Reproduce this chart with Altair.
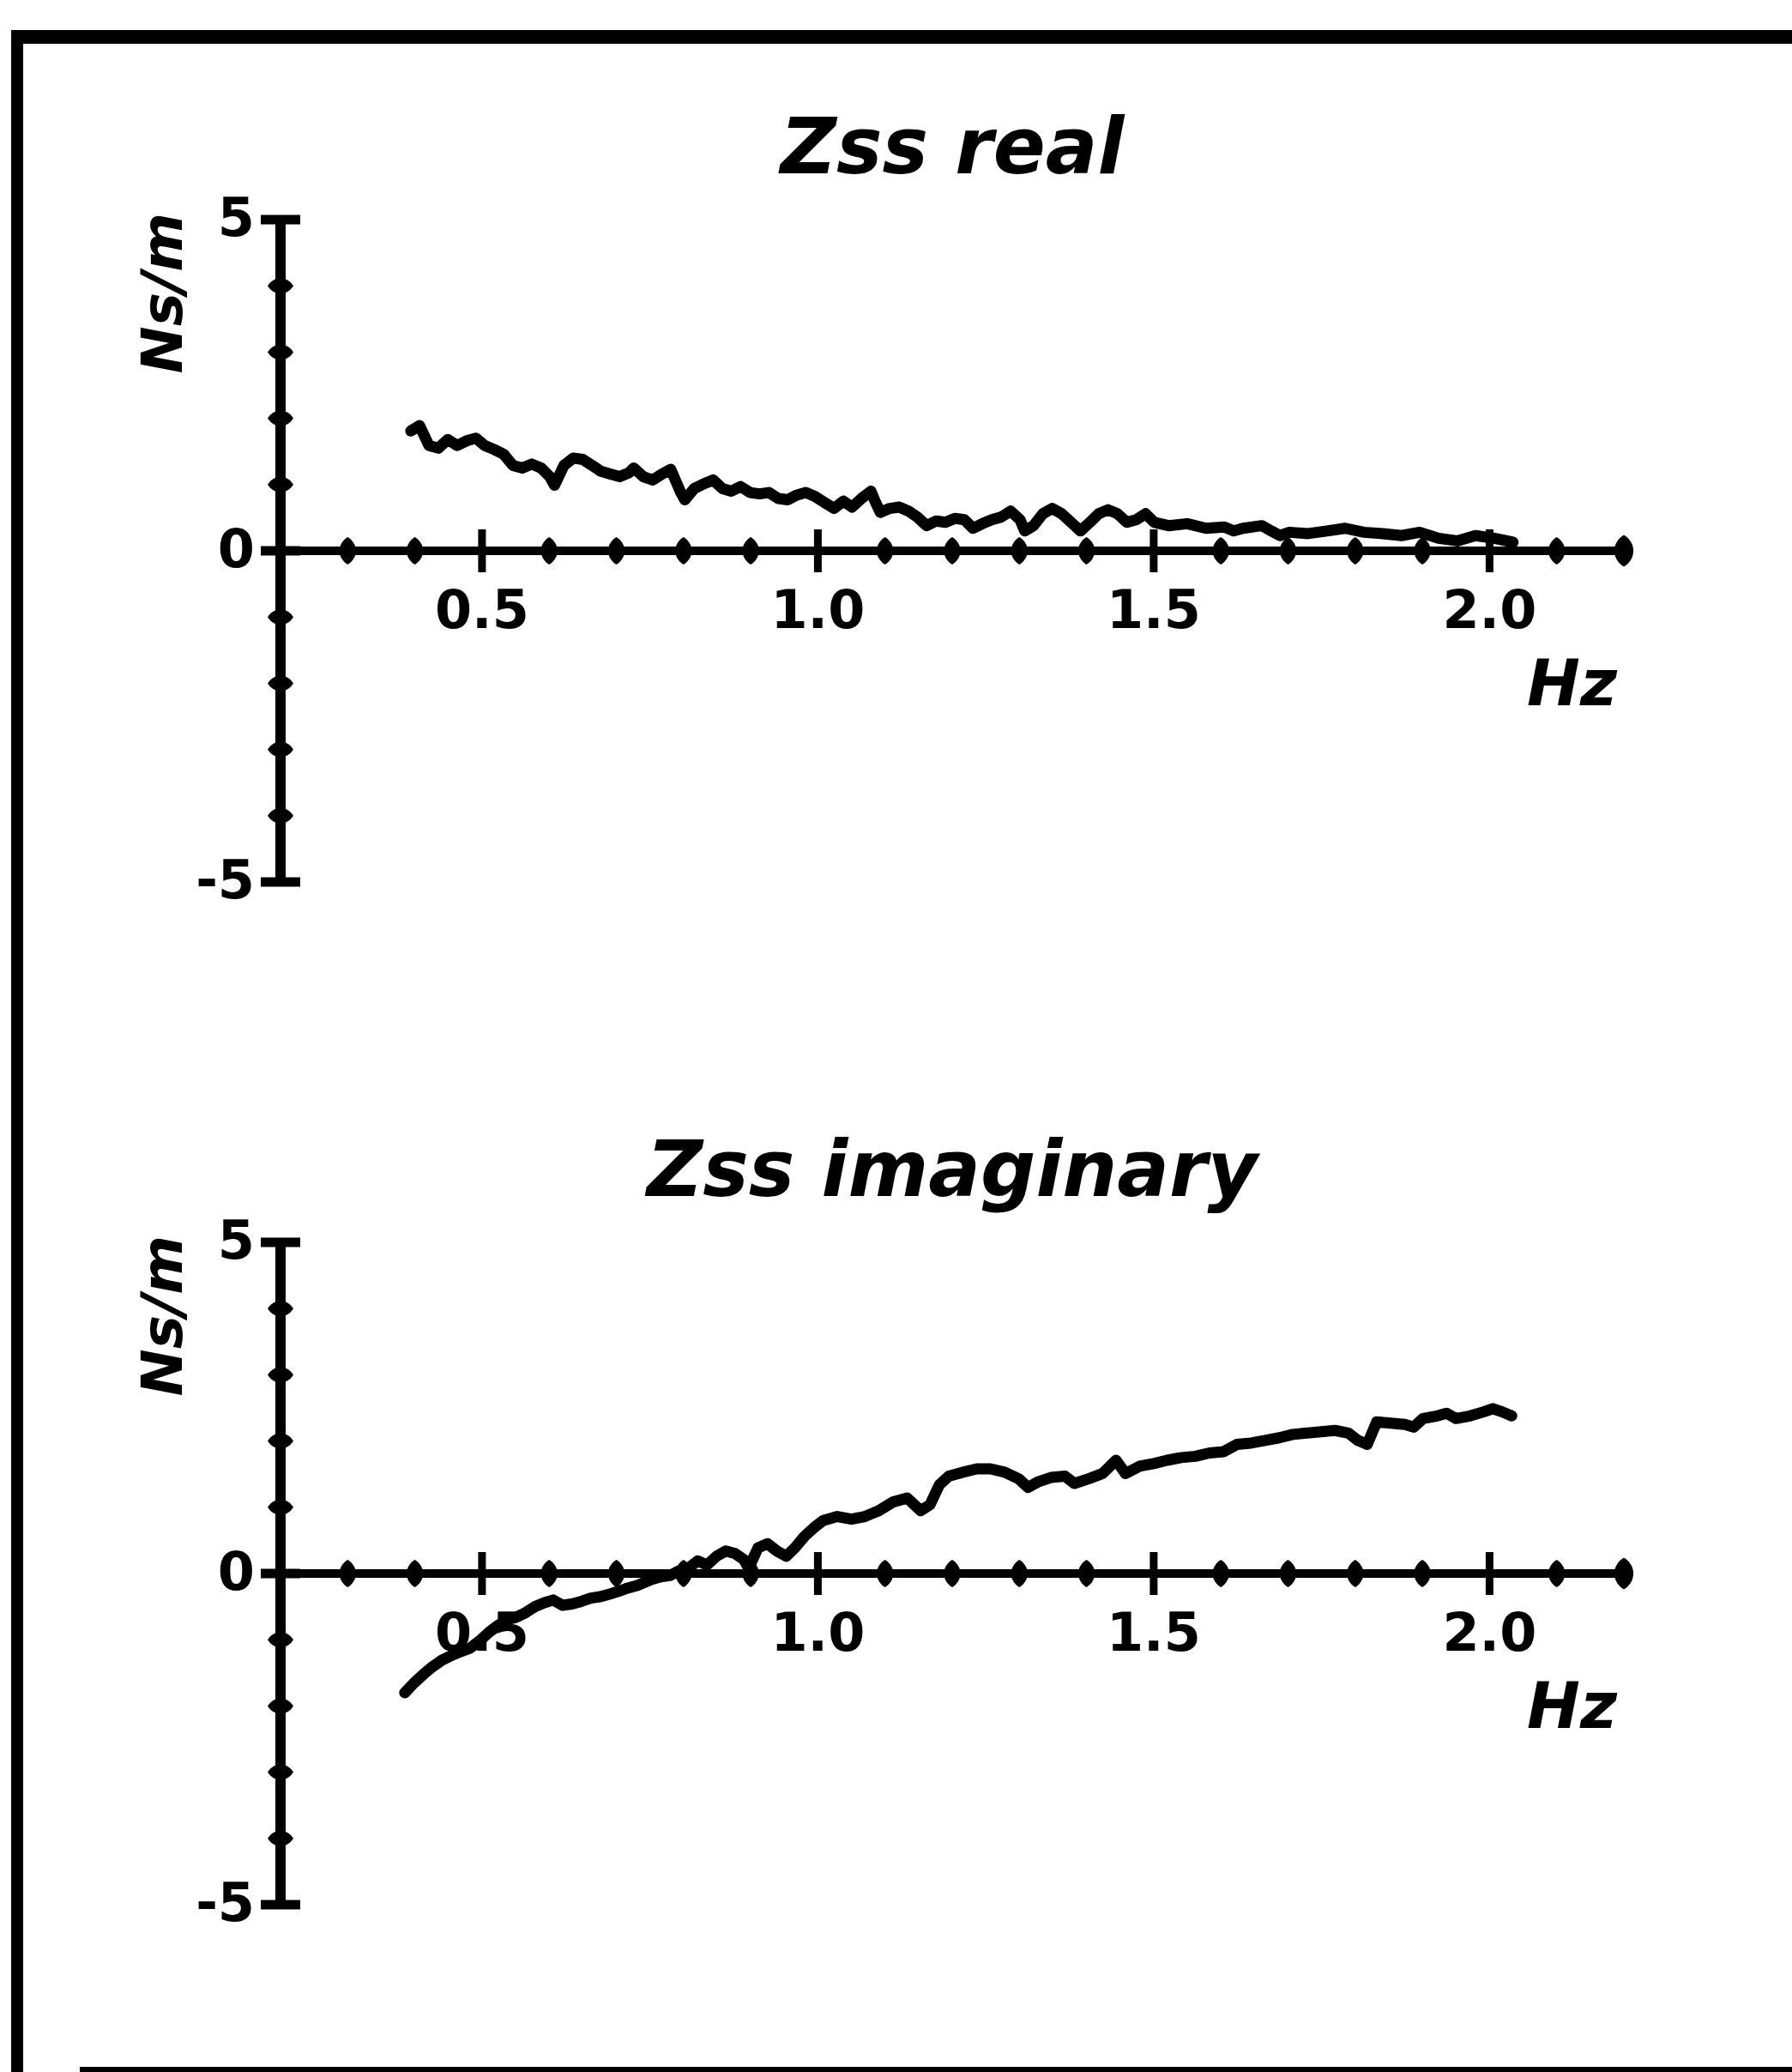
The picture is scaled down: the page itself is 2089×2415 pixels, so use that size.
import altair as alt
import pandas as pd

# ---------------- data ----------------
X_DOMAIN = [0.2, 2.2]
Y_DOMAIN = [-5, 5]
X_AXIS_AT = 0
X_MAJOR = [0.5, 1.0, 1.5, 2.0]
X_MAJOR_LABELS = ["0.5", "1.0", "1.5", "2.0"]
X_MINOR = [0.3, 0.4, 0.6, 0.7, 0.8, 0.9, 1.1, 1.2, 1.3, 1.4, 1.6, 1.7, 1.8, 1.9, 2.1]
Y_MAJOR = [-5, 0, 5]
Y_MAJOR_LABELS = ["-5", "0", "5"]
Y_MINOR = [-4, -3, -2, -1, 1, 2, 3, 4]

TITLES = ["Zss real", "Zss imaginary"]
X_TITLE = "Hz"
Y_TITLE = "Ns/m"

REAL_HZ = [0.394, 0.407, 0.421, 0.435, 0.449, 0.463, 0.477, 0.491, 0.504, 0.518,
           0.532, 0.546, 0.560, 0.574, 0.588, 0.601, 0.608, 0.622, 0.636, 0.650,
           0.664, 0.677, 0.691, 0.705, 0.719, 0.726, 0.740, 0.754, 0.768, 0.781,
           0.795, 0.802, 0.816, 0.830, 0.844, 0.858, 0.871, 0.885, 0.899, 0.913,
           0.927, 0.941, 0.955, 0.968, 0.982, 0.996, 1.010, 1.024, 1.038, 1.051,
           1.065, 1.079, 1.086, 1.093, 1.107, 1.121, 1.135, 1.148, 1.162, 1.176,
           1.190, 1.204, 1.218, 1.231, 1.245, 1.259, 1.273, 1.287, 1.301, 1.308,
           1.321, 1.335, 1.349, 1.363, 1.377, 1.391, 1.405, 1.418, 1.432, 1.446,
           1.460, 1.474, 1.488, 1.501, 1.522, 1.550, 1.578, 1.605, 1.619, 1.633,
           1.661, 1.675, 1.688, 1.702, 1.730, 1.758, 1.785, 1.813, 1.841, 1.869,
           1.896, 1.924, 1.952, 1.979, 2.007, 2.035]
REAL_VAL = [1.81, 1.89, 1.59, 1.55, 1.68, 1.59, 1.66, 1.70, 1.59, 1.53,
            1.46, 1.29, 1.25, 1.31, 1.25, 1.12, 0.99, 1.29, 1.40, 1.38,
            1.29, 1.20, 1.16, 1.12, 1.18, 1.25, 1.12, 1.07, 1.16, 1.23,
            0.90, 0.77, 0.94, 1.01, 1.07, 0.94, 0.90, 0.97, 0.88, 0.86,
            0.88, 0.79, 0.77, 0.84, 0.88, 0.82, 0.73, 0.64, 0.75, 0.66,
            0.79, 0.90, 0.73, 0.58, 0.64, 0.66, 0.60, 0.51, 0.38, 0.45,
            0.43, 0.49, 0.47, 0.34, 0.41, 0.47, 0.51, 0.60, 0.47, 0.30,
            0.38, 0.56, 0.64, 0.56, 0.43, 0.30, 0.43, 0.56, 0.62, 0.56,
            0.43, 0.47, 0.56, 0.43, 0.38, 0.41, 0.34, 0.36, 0.30, 0.34,
            0.38, 0.30, 0.23, 0.28, 0.26, 0.30, 0.34, 0.28, 0.26, 0.23,
            0.28, 0.19, 0.15, 0.23, 0.19, 0.13]

IMAG_HZ = [0.385, 0.399, 0.413, 0.426, 0.440, 0.454, 0.468, 0.482, 0.496, 0.510,
           0.523, 0.537, 0.551, 0.565, 0.579, 0.593, 0.606, 0.620, 0.634, 0.648,
           0.662, 0.676, 0.690, 0.703, 0.717, 0.731, 0.752, 0.766, 0.780, 0.793,
           0.807, 0.821, 0.835, 0.849, 0.863, 0.877, 0.890, 0.897, 0.911, 0.925,
           0.939, 0.953, 0.966, 0.980, 0.994, 1.008, 1.029, 1.050, 1.070, 1.091,
           1.112, 1.133, 1.153, 1.167, 1.181, 1.195, 1.216, 1.237, 1.257, 1.278,
           1.299, 1.313, 1.327, 1.347, 1.368, 1.382, 1.403, 1.424, 1.444, 1.458,
           1.479, 1.500, 1.520, 1.541, 1.562, 1.583, 1.604, 1.624, 1.645, 1.666,
           1.687, 1.707, 1.728, 1.749, 1.770, 1.790, 1.804, 1.818, 1.832, 1.853,
           1.874, 1.887, 1.901, 1.922, 1.936, 1.950, 1.971, 1.991, 2.005, 2.019,
           2.033]
IMAG_VAL = [-1.80, -1.65, -1.52, -1.41, -1.31, -1.24, -1.18, -1.13, -1.02, -0.89,
            -0.79, -0.70, -0.66, -0.59, -0.50, -0.44, -0.40, -0.48, -0.46, -0.42,
            -0.37, -0.35, -0.31, -0.27, -0.22, -0.18, -0.09, -0.05, -0.03, 0.04,
            0.08, 0.19, 0.13, 0.26, 0.34, 0.30, 0.21, 0.08, 0.39, 0.45,
            0.34, 0.26, 0.39, 0.56, 0.69, 0.80, 0.86, 0.82, 0.86, 0.95,
            1.08, 1.14, 0.95, 1.04, 1.34, 1.47, 1.53, 1.58, 1.58, 1.53,
            1.43, 1.30, 1.38, 1.45, 1.47, 1.36, 1.43, 1.51, 1.71, 1.51,
            1.62, 1.66, 1.71, 1.75, 1.77, 1.82, 1.84, 1.95, 1.97, 2.01,
            2.05, 2.10, 2.12, 2.14, 2.16, 2.12, 2.01, 1.95, 2.29, 2.27,
            2.25, 2.21, 2.34, 2.38, 2.42, 2.34, 2.38, 2.44, 2.49, 2.44,
            2.38]

# ---------------- styling ----------------
W, H = 1566, 772
FONT = "DejaVu Sans"
INK = "black"
XS = alt.Scale(domain=X_DOMAIN, nice=False, zero=False)
YS = alt.Scale(domain=Y_DOMAIN, nice=False, zero=False)

# lens-shaped axis dots (unit box -1..1)
V_LENS = "M0,-1 C-0.8,-0.5 -0.8,0.5 0,1 C0.8,0.5 0.8,-0.5 0,-1 Z"
H_LENS = "M-1,0 C-0.5,-0.8 0.5,-0.8 1,0 C0.5,0.8 -0.5,0.8 -1,0 Z"


def X(f):
    return alt.X(f, type="quantitative", scale=XS, axis=None)


def Y(f):
    return alt.Y(f, type="quantitative", scale=YS, axis=None)


def panel(title, hz, vals, with_frame=False):
    layers = []
    if with_frame:
        one = pd.DataFrame({"k": [0]})
        layers += [
            alt.Chart(one).mark_rule(strokeWidth=16, color=INK).encode(
                x=alt.value(-314), x2=alt.value(1762), y=alt.value(-213)),
            alt.Chart(one).mark_rule(strokeWidth=14, color=INK).encode(
                x=alt.value(-307), y=alt.value(-221), y2=alt.value(2159)),
            alt.Chart(one).mark_rule(strokeWidth=6, color=INK).encode(
                x=alt.value(-234), x2=alt.value(1762), y=alt.value(2156)),
        ]

    # axis lines
    yline = alt.Chart(pd.DataFrame({"x": [X_DOMAIN[0]], "y": [Y_DOMAIN[0]], "y2": [Y_DOMAIN[1]]})
                      ).mark_rule(strokeWidth=12, color=INK).encode(x=X("x"), y=Y("y"), y2="y2")
    xline = alt.Chart(pd.DataFrame({"x": [X_DOMAIN[0]], "x2": [X_DOMAIN[1]], "y": [X_AXIS_AT]})
                      ).mark_rule(strokeWidth=10, color=INK).encode(x=X("x"), x2="x2", y=Y("y"))

    ymaj = pd.DataFrame({"x": [X_DOMAIN[0]] * len(Y_MAJOR), "y": Y_MAJOR, "t": Y_MAJOR_LABELS})
    ycaps = alt.Chart(ymaj).mark_tick(orient="horizontal", size=46, thickness=11, color=INK,
                                      opacity=1).encode(x=X("x"), y=Y("y"))
    ylabels = alt.Chart(ymaj).mark_text(font=FONT, fontSize=62, fontWeight="bold", align="right",
                                        baseline="middle", dx=-30, color=INK
                                        ).encode(x=X("x"), y=Y("y"), text="t:N")
    ydots = alt.Chart(pd.DataFrame({"x": [X_DOMAIN[0]] * len(Y_MINOR), "y": Y_MINOR})
                      ).mark_point(shape=H_LENS, size=900, filled=True, opacity=1, color=INK
                                   ).encode(x=X("x"), y=Y("y"))

    xmaj = pd.DataFrame({"x": X_MAJOR, "y": [X_AXIS_AT] * len(X_MAJOR), "t": X_MAJOR_LABELS})
    xticks = alt.Chart(xmaj).mark_tick(orient="vertical", size=50, thickness=9, color=INK,
                                       opacity=1).encode(x=X("x"), y=Y("y"))
    xlabels = alt.Chart(xmaj).mark_text(font=FONT, fontSize=62, fontWeight="bold", align="center",
                                        baseline="alphabetic", dy=90, color=INK
                                        ).encode(x=X("x"), y=Y("y"), text="t:N")
    xdots = alt.Chart(pd.DataFrame({"x": X_MINOR, "y": [X_AXIS_AT] * len(X_MINOR)})
                      ).mark_point(shape=V_LENS, size=1024, filled=True, opacity=1, color=INK
                                   ).encode(x=X("x"), y=Y("y"))
    xend = alt.Chart(pd.DataFrame({"x": [X_DOMAIN[1]], "y": [X_AXIS_AT]})
                     ).mark_point(shape=V_LENS, size=1370, filled=True, opacity=1, color=INK
                                  ).encode(x=X("x"), y=Y("y"))

    xtitle = alt.Chart(pd.DataFrame({"x": [X_DOMAIN[1]], "y": [X_AXIS_AT], "t": [X_TITLE]})
                       ).mark_text(font=FONT, fontSize=74, fontWeight="bold", fontStyle="italic",
                                   align="right", baseline="alphabetic", dx=-8, dy=180, color=INK
                                   ).encode(x=X("x"), y=Y("y"), text="t:N")
    ytitle = alt.Chart(pd.DataFrame({"x": [X_DOMAIN[0]], "y": [Y_DOMAIN[1]], "t": [Y_TITLE]})
                       ).mark_text(font=FONT, fontSize=66, fontWeight="bold", fontStyle="italic",
                                   angle=270, align="right", baseline="alphabetic", dx=8, dy=-115,
                                   color=INK
                                   ).encode(x=X("x"), y=Y("y"), text="t:N")
    ptitle = alt.Chart(pd.DataFrame({"y": [Y_DOMAIN[1]], "t": [title]})
                       ).mark_text(font=FONT, fontSize=90, fontWeight="bold", fontStyle="italic",
                                   align="center", baseline="alphabetic", dy=-54, color=INK
                                   ).encode(x=alt.value(W / 2), y=Y("y"), text="t:N")

    line = alt.Chart(pd.DataFrame({"hz": hz, "val": vals})).mark_line(
        strokeWidth=13, strokeJoin="round", strokeCap="round", color=INK
    ).encode(x=X("hz"), y=Y("val"))

    layers += [yline, xline, ycaps, ydots, xticks, xdots, xend, ylabels, xlabels,
               xtitle, ytitle, ptitle, line]
    return alt.layer(*layers).properties(width=W, height=H)


top = panel(TITLES[0], REAL_HZ, REAL_VAL, with_frame=True)
bottom = panel(TITLES[1], IMAG_HZ, IMAG_VAL)

chart = alt.vconcat(top, bottom, spacing=420, bounds="flush").properties(
    autosize=alt.AutoSizeParams(type="none"),
    padding={"left": 327, "top": 256, "right": 2089 - 327 - W, "bottom": 2159},
    background="white",
).configure_view(stroke=None)

chart.save("out.html", embed_options={"renderer": "svg", "actions": False})
